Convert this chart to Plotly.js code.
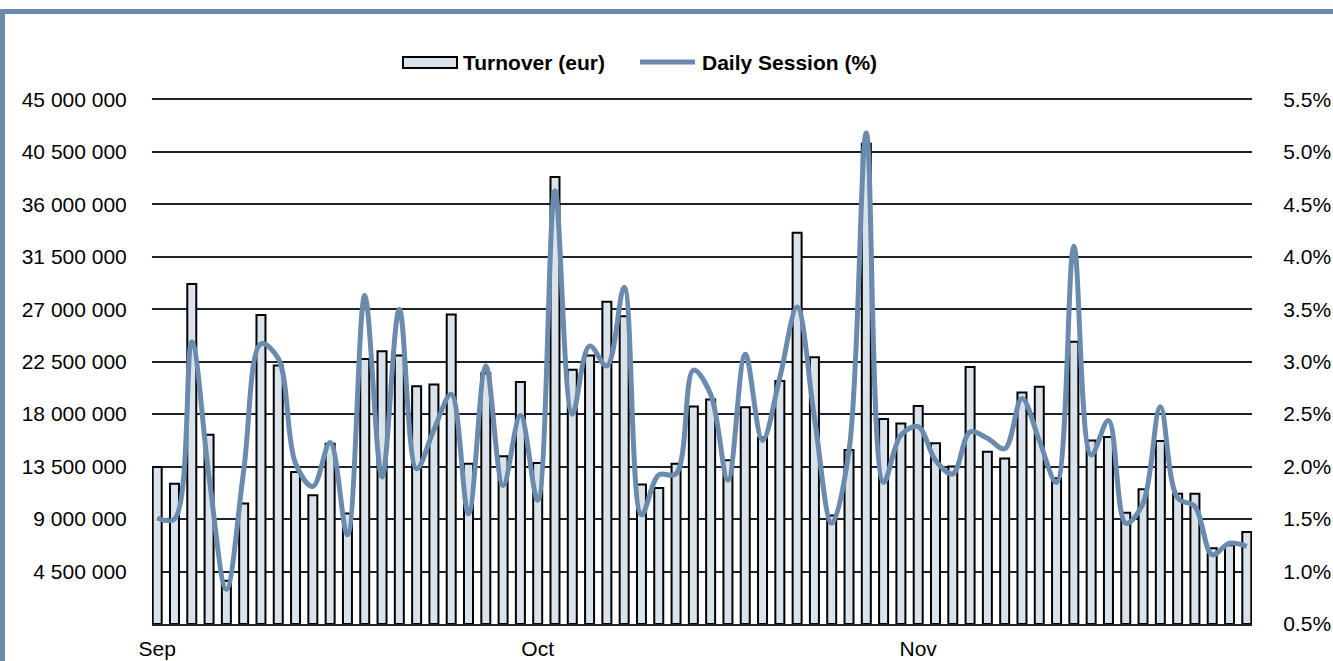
<!DOCTYPE html>
<html><head><meta charset="utf-8">
<script src="https://cdn.plot.ly/plotly-3.0.1.min.js"></script>
<style>
html,body{margin:0;padding:0;background:#fff;}
#wrap{position:relative;width:1333px;height:661px;overflow:hidden;}
#chart{position:absolute;left:0;top:0;width:1333px;height:661px;}
#frame{position:absolute;left:0;top:9px;width:1333px;height:652px;border-top:5px solid #6a89ad;border-left:5px solid #6a89ad;box-sizing:border-box;pointer-events:none;}
</style></head>
<body><div id="wrap"><div id="chart"></div><div id="frame"></div></div>
<script>
// Daily turnover (eur), one value per trading session, Sep - Nov
const turnover = [
  13470000, 12040000, 29160000, 16240000, 3700000, 10330000, 26500000, 22170000,
  13040000, 11040000, 15470000, 9470000, 22740000, 23400000, 23030000, 20400000,
  20550000, 26540000, 13750000, 21500000, 14380000, 20750000, 13810000, 38350000,
  21800000, 23030000, 27650000, 26400000, 11960000, 11670000, 13750000, 18660000,
  19250000, 14040000, 18600000, 16000000, 20850000, 33550000, 22870000, 9300000,
  14930000, 41200000, 17580000, 17200000, 18700000, 15500000, 13500000, 22050000,
  14780000, 14200000, 19850000, 20340000, 12500000, 24200000, 15750000, 16030000,
  9550000, 11550000, 15700000, 11180000, 11170000, 6500000, 6750000, 7900000
];
// Daily session (%)
const session = [
  1.51, 1.50, 3.19, 1.90, 0.83, 1.96, 3.17, 3.03,
  2.03, 1.81, 2.23, 1.35, 3.63, 1.90, 3.50, 1.98,
  2.35, 2.69, 1.55, 2.96, 1.82, 2.49, 1.68, 4.63,
  2.50, 3.15, 2.96, 3.71, 1.54, 1.92, 1.93, 2.92,
  2.69, 1.87, 3.07, 2.25, 2.85, 3.52, 2.47, 1.46,
  2.15, 5.18, 1.85, 2.30, 2.38, 2.06, 1.93, 2.33,
  2.27, 2.17, 2.65, 2.25, 1.85, 4.10, 2.11, 2.44,
  1.46, 1.65, 2.57, 1.70, 1.62, 1.16, 1.27, 1.24
];
const monthTickPos = [0, 22, 44];
const monthLabels = ['Sep', 'Oct', 'Nov'];
const turnoverTicks = [4500000, 9000000, 13500000, 18000000, 22500000, 27000000, 31500000, 36000000, 40500000, 45000000];
const sessionTicks = [0.5, 1.0, 1.5, 2.0, 2.5, 3.0, 3.5, 4.0, 4.5, 5.0, 5.5];

const xIdx = turnover.map((_, i) => i);
const fam = '"Liberation Sans", Arial, sans-serif';
const gridCol = '#1b2331';
const lineCol = '#6a8aae';
const fs = 21;

// axes extended slightly above the top tick so its gridline is drawn
const topPad = 1.0045;
const plotTop = 97, plotBottom = 624, plotH = plotBottom - plotTop;
const px2paperY = py => (plotBottom - py) / plotH;
const px2paperX = px => (px - 152) / 1100;

const traces = [
  {
    type: 'bar', name: 'Turnover (eur)', x: xIdx, y: turnover,
    width: 0.52,
    marker: {color: '#dbe3ea', line: {color: '#000000', width: 2}},
    showlegend: false, hoverinfo: 'y'
  },
  {
    type: 'scatter', mode: 'lines', name: 'Daily Session (%)', x: xIdx, y: session,
    yaxis: 'y2',
    line: {color: lineCol, width: 5, shape: 'spline', smoothing: 1},
    showlegend: false
  }
];

const layout = {
  width: 1333, height: 661,
  margin: {l: 152, r: 81, t: plotTop, b: 661 - plotBottom},
  paper_bgcolor: '#ffffff', plot_bgcolor: '#ffffff',
  font: {family: fam, size: fs, color: '#000000'},
  separators: '. ',
  bargap: 0,
  xaxis: {
    range: [-0.3, 63.3],
    tickmode: 'array', tickvals: monthTickPos, ticktext: monthLabels,
    showgrid: false, zeroline: false,
    showline: true, linecolor: gridCol, linewidth: 2,
    ticks: 'outside', ticklen: 5, tickcolor: 'rgba(0,0,0,0)',
    tickfont: {family: fam, size: fs, color: '#000'}
  },
  yaxis: {
    range: [0, 45000000 * topPad],
    tickmode: 'array', tickvals: turnoverTicks,
    tickformat: ',d',
    showgrid: true, gridcolor: gridCol, gridwidth: 2,
    zeroline: false, showline: false,
    ticks: 'outside', ticklen: 20, tickcolor: 'rgba(0,0,0,0)',
    tickfont: {family: fam, size: fs, color: '#000'}
  },
  yaxis2: {
    overlaying: 'y', side: 'right',
    range: [0.5, 0.5 + 5 * topPad],
    tickmode: 'array', tickvals: sessionTicks,
    ticktext: sessionTicks.map(v => v.toFixed(1) + '%'),
    showgrid: false, zeroline: false, showline: false,
    ticks: 'outside', ticklen: 26, tickcolor: 'rgba(0,0,0,0)',
    tickfont: {family: fam, size: fs, color: '#000'}
  },
  shapes: [
    {type: 'rect', xref: 'paper', yref: 'paper',
     x0: px2paperX(403), x1: px2paperX(457),
     y0: px2paperY(68), y1: px2paperY(57),
     fillcolor: '#dbe3ea', line: {color: '#000', width: 2}},
    {type: 'line', xref: 'paper', yref: 'paper',
     x0: px2paperX(640), x1: px2paperX(695),
     y0: px2paperY(62), y1: px2paperY(62),
     line: {color: lineCol, width: 5}}
  ],
  annotations: [
    {xref: 'paper', yref: 'paper', x: px2paperX(461), y: px2paperY(62),
     xanchor: 'left', yanchor: 'middle', showarrow: false,
     text: '<b>Turnover (eur)</b>', font: {family: fam, size: fs, color: '#000'}},
    {xref: 'paper', yref: 'paper', x: px2paperX(700), y: px2paperY(62),
     xanchor: 'left', yanchor: 'middle', showarrow: false,
     text: '<b>Daily Session (%)</b>', font: {family: fam, size: fs, color: '#000'}}
  ]
};

Plotly.newPlot('chart', traces, layout, {displayModeBar: false, staticPlot: true});
</script>
</body></html>
